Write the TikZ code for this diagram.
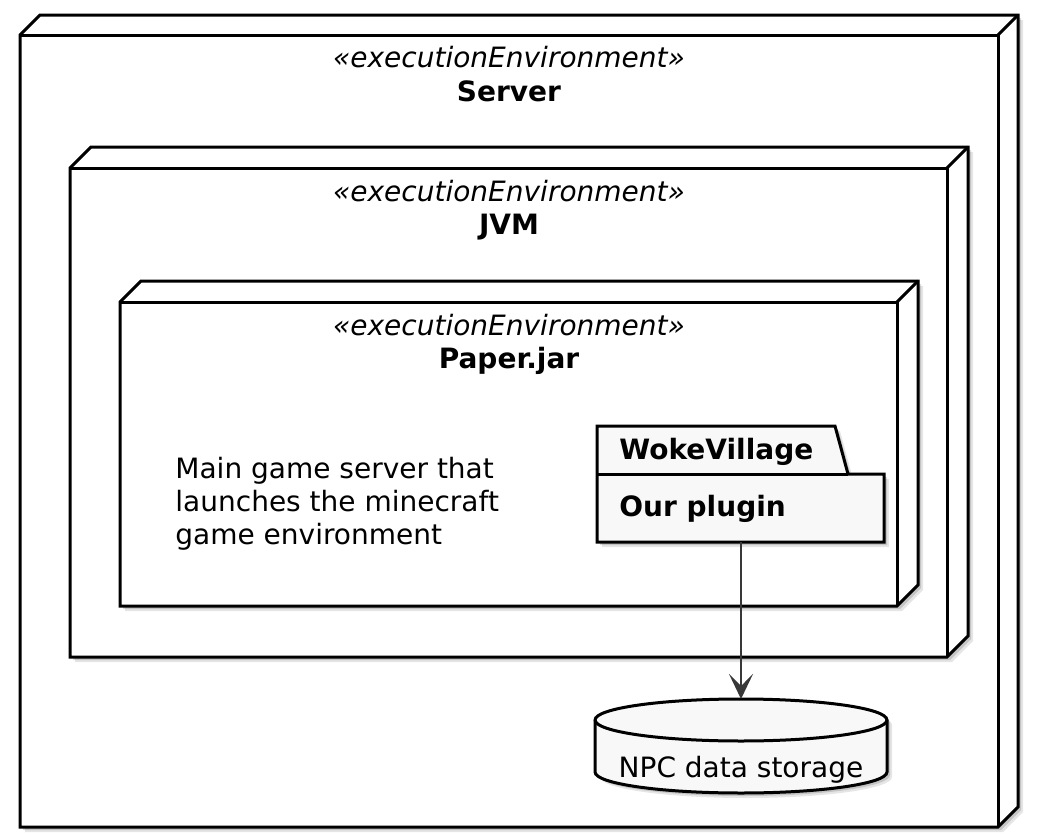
\documentclass[tikz,border=0pt]{standalone}
\usepackage{fontspec}
\setmainfont{DejaVu Sans}[ItalicFont={DejaVu Sans Oblique},BoldFont={DejaVu Sans Bold}]
\usetikzlibrary{arrows.meta}
\definecolor{pkgfill}{HTML}{F8F8F8}
\definecolor{arrowc}{HTML}{383838}
\tikzset{
  border/.style={line width=1.5pt, draw=black, line join=miter},
  shadowA/.style={fill=black, opacity=0.10, draw=none},
  shadowB/.style={fill=black, opacity=0.14, draw=none},
  lbl/.style={inner sep=0pt, anchor=base, font=\fontsize{14}{16.3}\selectfont},
  conn/.style={draw=arrowc, line width=1pt, -{Stealth[length=12.5pt,width=12pt,inset=6pt]}},
}
% 3D node box: l t r b d
\newcommand\envbox[5]{%
  \fill[shadowA] (#1+5,#2+5) -- (#1+#5+5,#2-#5+5) -- (#3+#5+5,#2-#5+5) -- (#3+#5+5,#4-#5+5) -- (#3+5,#4+5) -- (#1+5,#4+5) -- cycle;
  \fill[shadowB] (#1+3,#2+3) -- (#1+#5+3,#2-#5+3) -- (#3+#5+3,#2-#5+3) -- (#3+#5+3,#4-#5+3) -- (#3+3,#4+3) -- (#1+3,#4+3) -- cycle;
  \filldraw[border, fill=white] (#1,#2) -- (#1+#5,#2-#5) -- (#3+#5,#2-#5) -- (#3+#5,#4-#5) -- (#3,#4) -- (#1,#4) -- cycle;
  \draw[border] (#1,#2) -- (#3,#2) -- (#3,#4);
  \draw[border] (#3,#2) -- (#3+#5,#2-#5);
}
% cylinder outline: left x, top-ellipse centre y, bottom-ellipse centre y
\newcommand\cylpath[3]{(#1,#2) arc[start angle=180, end angle=360, x radius=146, y radius=21] -- (#1+292,#3) arc[start angle=0, end angle=180, x radius=146, y radius=21] -- cycle}
\begin{document}
\begin{tikzpicture}[x=0.5pt,y=-0.5pt]
\useasboundingbox (0,0) rectangle (1040,835);
\fill[white] (0,0) rectangle (1040,835);

% Server
\envbox{20}{35}{998}{827}{20}
\node[lbl] (srvst) at (509,68) {\itshape «executionEnvironment»};
\node[lbl] (srv) at (509,101) {\bfseries Server};

% JVM
\envbox{70}{168}{947}{657}{21}
\node[lbl] (jvmst) at (509,201) {\itshape «executionEnvironment»};
\node[lbl] (jvm) at (509,234) {\bfseries JVM};

% Paper.jar
\envbox{120}{302}{897}{606}{21}
\node[lbl] (papst) at (509,335) {\itshape «executionEnvironment»};
\node[lbl] (pap) at (509,368) {\bfseries Paper.jar};

% description text
\node[inner sep=0pt, anchor=base west, align=left, font=\fontsize{14}{16.5}\selectfont] (desc) at (175,544)
  {Main game server that\\launches the minecraft\\game environment};

% package WokeVillage
\fill[shadowA] (602,431) -- (840,431) -- (853,479) -- (889,479) -- (889,547) -- (602,547) -- cycle;
\fill[shadowB] (600,429) -- (838,429) -- (851,477) -- (887,477) -- (887,545) -- (600,545) -- cycle;
\filldraw[border, fill=pkgfill] (597,426) -- (835,426) -- (848,474) -- (884,474) -- (884,542) -- (597,542) -- cycle;
\draw[border] (597,474) -- (848,474);
\node[lbl, anchor=base west] (pkg) at (619,459) {\bfseries WokeVillage};
\node[lbl, anchor=base west] (plug) at (619,516) {\bfseries Our plugin};
\coordinate (plugbot) at (741,542);

% database cylinder
\fill[shadowA] \cylpath{600}{725}{777};
\fill[shadowB] \cylpath{598}{723}{775};
\filldraw[border, fill=pkgfill] \cylpath{595}{720}{772};
\draw[border] (595,720) arc[start angle=180, end angle=0, x radius=146, y radius=21];
\node[lbl] (db) at (741,777) {NPC data storage};
\coordinate (dbtop) at (741,699);

% connector
\draw[conn] (plugbot) -- (dbtop);
\end{tikzpicture}
\end{document}
